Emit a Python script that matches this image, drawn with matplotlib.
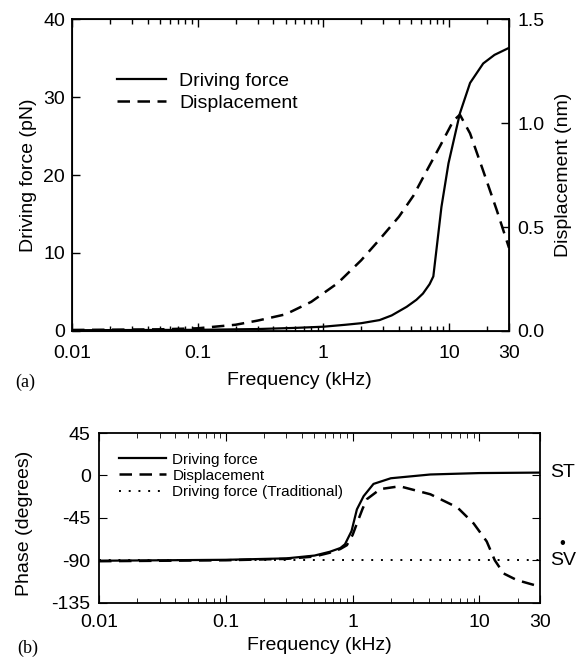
import matplotlib
matplotlib.use("Agg")
import matplotlib.pyplot as plt
import matplotlib.ticker as mticker
import matplotlib.transforms as mtrans

# --- data ---
# (a) amplitude
force_freq = [0.01, 0.1, 0.3, 0.6, 1, 1.5, 2, 2.8, 3.5, 4.6, 5.5, 6.2, 7, 7.5,
              8.7, 9.9, 12.2, 14.7, 18.7, 23, 30]
force_pN = [0.1, 0.15, 0.25, 0.4, 0.55, 0.8, 1.0, 1.4, 2.0, 3.1, 4.0, 4.8, 6.0, 7.0,
            15.9, 21.5, 27.9, 31.8, 34.3, 35.4, 36.3]
disp_freq = [0.01, 0.05, 0.1, 0.2, 0.3, 0.5, 0.8, 1.3, 2, 2.8, 4.0, 5.2, 6.5, 8.5,
             10.8, 12.2, 14.7, 18.7, 24, 30]
disp_nm = [0.005, 0.008, 0.013, 0.03, 0.05, 0.08, 0.14, 0.23, 0.34, 0.44, 0.55, 0.65,
           0.76, 0.89, 1.01, 1.04, 0.95, 0.77, 0.58, 0.40]

# (b) phase
fphase_freq = [0.01, 0.1, 0.3, 0.5, 0.66, 0.8, 0.87, 0.98, 1.08, 1.22, 1.46, 2.0,
               4.1, 10, 30]
fphase_deg = [-90.5, -89.5, -88, -85, -81, -77, -73, -59, -36, -22, -9, -3,
              1, 2.5, 3]
dphase_freq = [0.01, 0.1, 0.3, 0.5, 0.66, 0.8, 0.9, 1.0, 1.08, 1.2, 1.3, 1.65, 2.35,
               4.1, 6.7, 9.0, 11.4, 13.2, 15.5, 19.7, 30]
dphase_deg = [-91, -90, -88.5, -86, -82, -78, -74, -63, -51, -35, -25, -14.5, -11.5,
              -20, -34, -51, -70, -90, -104, -111, -118]
trad_freq = [0.01, 30]
trad_deg = [-90, -90]

xticks = [0.01, 0.1, 1, 10, 30]
xticklabels = ["0.01", "0.1", "1", "10", "30"]

plt.rcParams['font.family'] = ['Liberation Sans', 'DejaVu Sans']
plt.rcParams['axes.unicode_minus'] = False

fig = plt.figure(figsize=(5.8, 6.7), dpi=100)

# ---------- panel (a) ----------
ax1 = fig.add_axes([72/580, 1-331/670, 437/580, 312/670])
ax2 = ax1.twinx()

l1, = ax1.plot(force_freq, force_pN, color='black', lw=1.6, label='Driving force')
l2, = ax2.plot(disp_freq, disp_nm, color='black', lw=1.8, dashes=(5, 3),
               label='Displacement')

ax1.set_xscale('log')
ax1.set_xlim(0.01, 30)
ax1.set_ylim(0, 40)
ax2.set_ylim(0, 1.5)
ax1.set_yticks([0, 10, 20, 30, 40])
ax2.set_yticks([0, 0.5, 1.0, 1.5])
ax2.yaxis.set_major_formatter(mticker.FormatStrFormatter('%.1f'))

for ax in (ax1, ax2):
    ax.xaxis.set_major_locator(mticker.FixedLocator(xticks))
    ax.xaxis.set_major_formatter(mticker.FixedFormatter(xticklabels))
    ax.xaxis.set_minor_locator(mticker.LogLocator(base=10, subs=range(2, 10)))
    ax.xaxis.set_minor_formatter(mticker.NullFormatter())
    ax.tick_params(which='both', direction='in', labelsize=14, width=1)
    ax.tick_params(which='major', length=6)
    ax.tick_params(which='minor', length=3.5)
ax1.tick_params(axis='x', which='both', top=True, pad=10)
ax1.tick_params(axis='y', pad=5)
ax2.tick_params(axis='y', pad=6)
for sp in ax1.spines.values():
    sp.set_linewidth(1.3)

ax1.set_xlabel('Frequency (kHz)', fontsize=14)
ax1.xaxis.set_label_coords(0.52, -0.13)
ax1.set_ylabel('Driving force (pN)', fontsize=14)
ax1.yaxis.set_label_coords(-0.08, 0.5)
ax2.set_ylabel('Displacement (nm)', fontsize=14)
ax2.yaxis.set_label_coords(1.105, 0.5)

ax1.legend(handles=[l1, l2], loc='upper left', bbox_to_anchor=(0.103, 0.83),
           frameon=False, fontsize=14, handlelength=2.5, handletextpad=0.7,
           borderpad=0, borderaxespad=0, labelspacing=0.25)

fig.text(15/580, 1-382/670, '(a)', family='Liberation Serif', fontsize=13,
         va='center', ha='left')

# ---------- panel (b) ----------
ax3 = fig.add_axes([99/580, 1-602.7/670, 441/580, 169.7/670])
ax3.plot(fphase_freq, fphase_deg, color='black', lw=1.6, label='Driving force')
ax3.plot(dphase_freq, dphase_deg, color='black', lw=1.8, dashes=(5, 3),
         label='Displacement')
ax3.plot(trad_freq, trad_deg, color='black', lw=1.4, dashes=(1, 4),
         label='Driving force (Traditional)')

ax3.set_xscale('log')
ax3.set_xlim(0.01, 30)
ax3.set_ylim(-135, 45)
ax3.set_yticks([45, 0, -45, -90, -135])
ax3.xaxis.set_major_locator(mticker.FixedLocator(xticks))
ax3.xaxis.set_major_formatter(mticker.FixedFormatter(xticklabels))
ax3.xaxis.set_minor_locator(mticker.LogLocator(base=10, subs=range(2, 10)))
ax3.xaxis.set_minor_formatter(mticker.NullFormatter())
ax3.tick_params(which='both', direction='in', labelsize=14, top=True, right=True)
ax3.tick_params(which='major', length=6)
ax3.tick_params(which='minor', length=3.5)
ax3.tick_params(axis='x', pad=8)
ax3.tick_params(axis='y', pad=6)
for sp in ax3.spines.values():
    sp.set_linewidth(1.3)

ax3.set_xlabel('Frequency (kHz)', fontsize=14)
ax3.xaxis.set_label_coords(0.5, -0.2)
ax3.set_ylabel('Phase (degrees)', fontsize=14)
ax3.yaxis.set_label_coords(-0.15, 0.47)

ax3.legend(loc='upper left', bbox_to_anchor=(0.045, 0.885), frameon=False,
           fontsize=11, handlelength=3.1, handletextpad=0.4,
           borderpad=0, borderaxespad=0, labelspacing=0.15)

tr = mtrans.blended_transform_factory(ax3.transAxes, ax3.transData)
ax3.text(1.023, fphase_deg[-1], 'ST', transform=tr, fontsize=14,
         va='center', ha='left')
ax3.text(1.023, trad_deg[-1], 'SV', transform=tr, fontsize=14,
         va='center', ha='left')
ax3.annotate('\u2022', xy=(1.023, trad_deg[-1]), xycoords=tr,
             xytext=(9, 12), textcoords='offset points',
             fontsize=12, ha='center', va='center')

fig.text(17/580, 1-648/670, '(b)', family='Liberation Serif', fontsize=13,
         va='center', ha='left')

fig.savefig('out.png', dpi=100)
